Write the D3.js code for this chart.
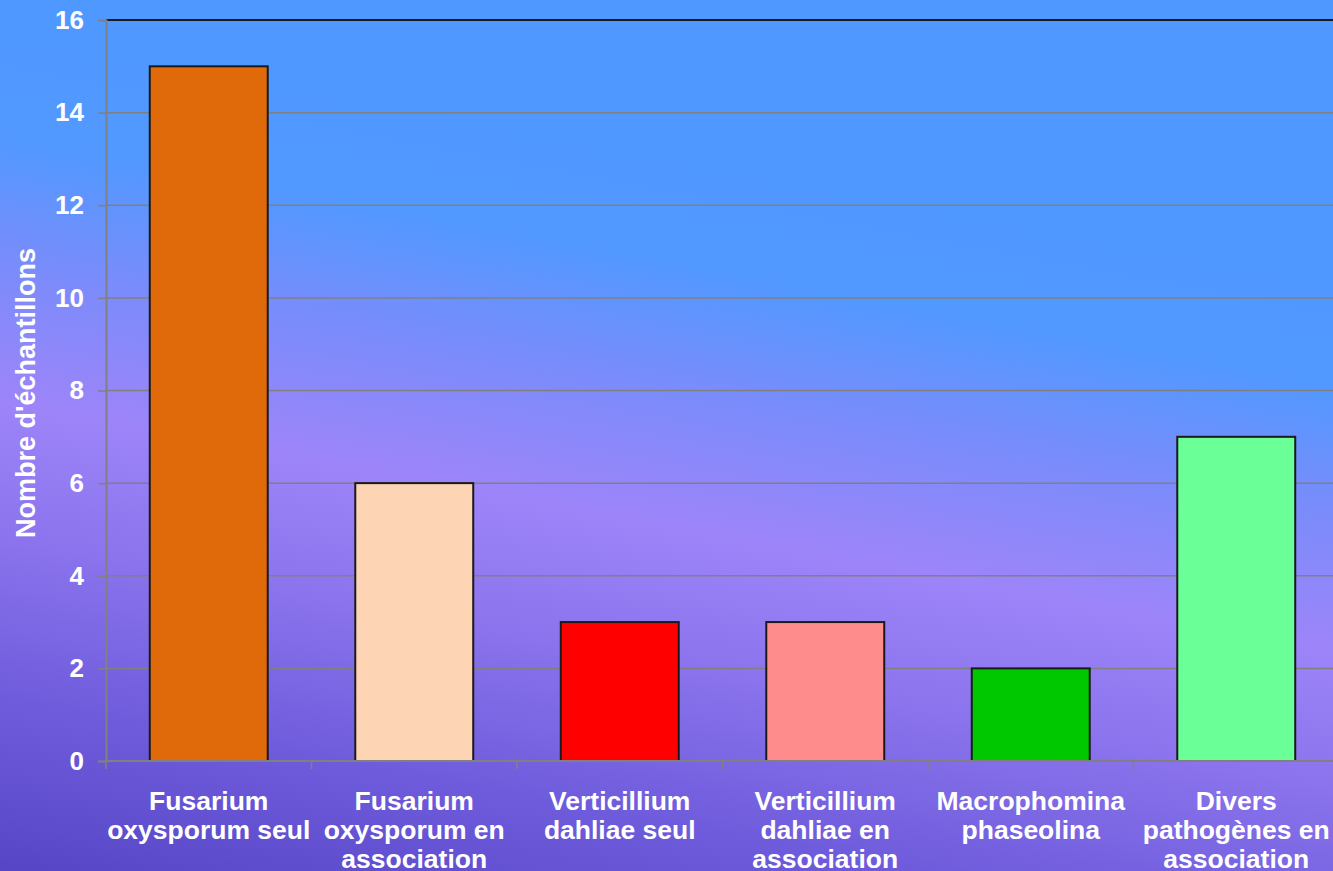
<!DOCTYPE html>
<html>
<head>
<meta charset="utf-8">
<script src="https://cdn.jsdelivr.net/npm/d3@7"></script>
<style>
  html, body { margin: 0; padding: 0; overflow: hidden; }
  svg { display: block; }
  text { font-family: "Liberation Sans", Arial, sans-serif; font-weight: bold; fill: #ffffff; }
</style>
</head>
<body>
<div id="chart"></div>
<script>
// Samples per pathogen group
const categories = [
  ["Fusarium", "oxysporum seul"],
  ["Fusarium", "oxysporum en", "association"],
  ["Verticillium", "dahliae seul"],
  ["Verticillium", "dahliae en", "association"],
  ["Macrophomina", "phaseolina"],
  ["Divers", "pathogènes en", "association"]
];
const values = [15, 6, 3, 3, 2, 7];
const barColors = ["#e06a0a", "#fdd4b4", "#ff0000", "#ff8c8c", "#00c800", "#6bff98"];
const yTicks = [0, 2, 4, 6, 8, 10, 12, 14, 16];
const yTitle = "Nombre d'échantillons";

const W = 1333, H = 871;
const plot = { left: 106, right: 1339, top: 20, bottom: 761 };

const svg = d3.select("#chart").append("svg")
  .attr("width", W).attr("height", H);

// Diagonal background: blue at the top, lavender across the middle, deep violet at the bottom left
const defs = svg.append("defs");
const grad = defs.append("linearGradient")
  .attr("id", "bg")
  .attr("gradientUnits", "userSpaceOnUse")
  .attr("x1", 0).attr("y1", 0)
  .attr("x2", -157).attr("y2", 842);
[
  [0, "#4f98ff"],
  [0.16, "#5298ff"],
  [0.3, "#7a8cfb"],
  [0.46, "#9d84f9"],
  [0.62, "#8a73ec"],
  [0.8, "#6f5cdc"],
  [1, "#5646c6"]
].forEach(([o, c]) => grad.append("stop").attr("offset", o).attr("stop-color", c));

svg.append("rect").attr("width", W).attr("height", H).attr("fill", "url(#bg)");

const x = d3.scaleBand()
  .domain(d3.range(categories.length))
  .range([plot.left, plot.right])
  .paddingInner(0.426)
  .paddingOuter(0.213);

const y = d3.scaleLinear()
  .domain([0, 16])
  .range([plot.bottom, plot.top]);

// Horizontal gridlines
svg.append("g")
  .selectAll("line")
  .data(yTicks.filter(t => t > 0 && t < 16))
  .join("line")
  .attr("x1", plot.left).attr("x2", plot.right)
  .attr("y1", d => y(d)).attr("y2", d => y(d))
  .attr("stroke", "#808080").attr("stroke-width", 1.5);

// Top border of the plot area
svg.append("line")
  .attr("x1", plot.left).attr("x2", plot.right)
  .attr("y1", y(16)).attr("y2", y(16))
  .attr("stroke", "#1a1a1a").attr("stroke-width", 2);

// Bars
svg.append("g")
  .selectAll("rect")
  .data(values)
  .join("rect")
  .attr("x", (d, i) => x(i))
  .attr("width", x.bandwidth())
  .attr("y", d => y(d))
  .attr("height", d => y(0) - y(d))
  .attr("fill", (d, i) => barColors[i])
  .attr("stroke", "#1a1a1a")
  .attr("stroke-width", 2);

// Y axis
const yAxis = svg.append("g")
  .attr("transform", `translate(${plot.left},0)`)
  .call(d3.axisLeft(y).tickValues(yTicks).tickSize(8).tickPadding(14).tickFormat(d3.format("d")));
yAxis.select(".domain").attr("stroke", "#808080").attr("stroke-width", 2);
yAxis.selectAll(".tick line").attr("stroke", "#808080").attr("stroke-width", 1.5);
yAxis.selectAll(".tick text")
  .attr("fill", "#ffffff")
  .style("font-size", "26px")
  .style("font-family", "'Liberation Sans', Arial, sans-serif")
  .style("font-weight", "bold");

// X axis: baseline with tick marks at band boundaries
const xg = svg.append("g");
xg.append("line")
  .attr("x1", plot.left).attr("x2", plot.right)
  .attr("y1", y(0)).attr("y2", y(0))
  .attr("stroke", "#808080").attr("stroke-width", 2);
xg.selectAll("line.tk")
  .data(d3.range(categories.length + 1))
  .join("line")
  .attr("class", "tk")
  .attr("x1", i => plot.left + i * x.step())
  .attr("x2", i => plot.left + i * x.step())
  .attr("y1", y(0)).attr("y2", y(0) + 8)
  .attr("stroke", "#808080").attr("stroke-width", 1.5);

// Category labels, one tspan per line
const lbl = svg.append("g")
  .selectAll("text")
  .data(categories)
  .join("text")
  .attr("x", (d, i) => x(i) + x.bandwidth() / 2)
  .attr("y", 810)
  .attr("text-anchor", "middle")
  .style("font-size", "26.5px");
lbl.selectAll("tspan")
  .data(d => d)
  .join("tspan")
  .attr("x", function () { return this.parentNode.getAttribute("x"); })
  .attr("dy", (d, j) => j === 0 ? 0 : 29)
  .text(d => d);

// Y axis title
svg.append("text")
  .attr("transform", "translate(35,393) rotate(-90)")
  .attr("text-anchor", "middle")
  .style("font-size", "27px")
  .text(yTitle);
</script>
</body>
</html>
